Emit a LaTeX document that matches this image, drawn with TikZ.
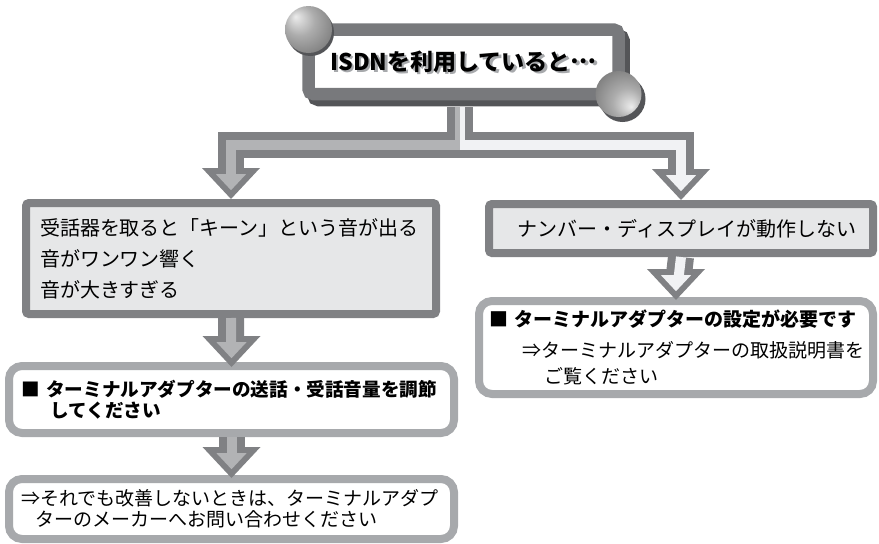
\documentclass[tikz,border=0pt]{standalone}
\usepackage{fontspec}
\setmainfont{Noto Sans CJK JP}
\usetikzlibrary{backgrounds}
\definecolor{linedark}{RGB}{128,129,132}
\definecolor{fillmid}{RGB}{178,179,181}
\definecolor{filllight}{RGB}{241,242,244}
\definecolor{boxgray}{RGB}{230,231,232}
\definecolor{framelight}{RGB}{167,169,172}
\definecolor{titleframe}{RGB}{120,121,124}
\definecolor{titleshade}{RGB}{84,85,88}
\pgfdeclareradialshading{knob}{\pgfpoint{-14bp}{14bp}}{color(0bp)=(white!85!gray); color(16bp)=(gray!65); color(38bp)=(gray!90!black); color(50bp)=(gray!75!black)}
\newcommand{\middots}{\raisebox{0.3em}{…}}
\begin{document}
\begin{tikzpicture}[x=1pt,y=-1pt,
  titlebox/.style={draw=titleframe, fill=white, line width=12.5pt, rounded corners=5pt, outer sep=0pt, inner sep=0pt},
  titletext/.style={font=\fontsize{23pt}{26pt}\selectfont\bfseries},
  probbox/.style={draw=linedark, fill=boxgray, line width=8pt, rounded corners=3pt, inner sep=0pt},
  answerbox/.style={draw=framelight, fill=white, line width=8pt, rounded corners=13pt, inner sep=0pt, align=left},
  shaftout/.style={draw=linedark, line width=26pt, shorten >=29pt},
  shaftin/.style={draw=#1, line width=10pt, shorten >=20pt}]
\useasboundingbox (0,0) rectangle (879,544);
% title
\node[titlebox, minimum width=310pt, minimum height=64.5pt] (title) at (463.5,61.75) {};
\begin{scope}[on background layer]
\draw[titleshade, line width=12.5pt, rounded corners=5pt] ([shift={(5pt,-6pt)}]title.north west) rectangle ([shift={(5pt,-6pt)}]title.south east);
\end{scope}
\node[titletext, text=framelight] (titleecho) at ([shift={(2.5pt,-2.5pt)}]title.center) {ISDNを利用していると\middots};
\node[titletext, text=black] (titlelabel) at (title.center) {ISDNを利用していると\middots};
\fill[titleshade] ([shift={(2pt,-3pt)}]title.north west) circle (23.5pt);
\shade[shading=knob] (title.north west) circle (23.5pt);
\fill[titleshade] ([shift={(4pt,-5pt)}]title.south east) circle (23pt);
\shade[shading=knob, shading angle=180] (title.south east) circle (23pt);
% boxes
\node[probbox, minimum width=410pt, minimum height=111pt, text width=382pt, align=left,
  font=\fontsize{20pt}{31pt}\selectfont] (lbox) at (231,258.5)
  {受話器を取ると「キーン」という音が出る\\音がワンワン響く\\音が大きすぎる};
\node[probbox, minimum width=384pt, minimum height=49pt,
  font=\fontsize{20pt}{24pt}\selectfont] (rbox) at (681,228.5)
  {\hspace*{12pt}ナンバー・ディスプレイが動作しない};
\node[answerbox, minimum width=394pt, minimum height=93pt, text width=374pt,
  font=\fontsize{19pt}{26pt}\selectfont] (rterm) at (676,347.5)
  {{\bfseries ■ ターミナルアダプターの設定が必要です}\\[5pt]\hspace*{33pt}⇒ターミナルアダプターの取扱説明書を\\\hspace*{55pt}ご覧ください};
\node[answerbox, minimum width=445pt, minimum height=67pt, text width=420pt,
  font=\fontsize{18.6pt}{21pt}\selectfont\bfseries] (lterm) at (231.5,399.5)
  {■ ターミナルアダプターの送話・受話音量を調節\\\hspace*{29pt}してください};
\node[answerbox, minimum width=445pt, minimum height=60pt, text width=420pt,
  font=\fontsize{19pt}{21pt}\selectfont] (lmaker) at (231.5,509)
  {⇒それでも改善しないときは、ターミナルアダプ\\\hspace*{14pt}ターのメーカーへお問い合わせください};
% fork below the title
\coordinate (fork) at (460,145);
\coordinate (stemtop) at ([yshift=-13pt]fork |- title.south);
\draw[shaftout] (stemtop) -- (fork) -| (lbox.north);
\draw[shaftout] (stemtop) -- (fork) -| (rbox.north);
\fill[linedark] (lbox.north) -- ++(-29,-31) -- ++(58,0) -- cycle;
\fill[linedark] (rbox.north) -- ++(-29,-31) -- ++(58,0) -- cycle;
\draw[shaftin=fillmid] (stemtop) -- (fork) -| (lbox.north);
\draw[shaftin=filllight] (fork) -| (rbox.north);
\fill[filllight] (stemtop) rectangle ([xshift=5pt]fork);
\fill[fillmid] ([yshift=8.8pt]lbox.north) -- ++(-15.2,-16.2) -- ++(30.4,0) -- cycle;
\fill[filllight] ([yshift=8.8pt]rbox.north) -- ++(-15.2,-16.2) -- ++(30.4,0) -- cycle;
% arrows between boxes
\draw[shaftout] (lbox.south) -- ([yshift=-5pt]lterm.north);
\fill[linedark] ([yshift=-5pt]lterm.north) -- ++(-29,-31) -- ++(58,0) -- cycle;
\draw[shaftin=fillmid] (lbox.south) -- ([yshift=-5pt]lterm.north);
\fill[fillmid] ([yshift=3.8pt]lterm.north) -- ++(-15.2,-16.2) -- ++(30.4,0) -- cycle;
\draw[shaftout] (lterm.south) -- ([yshift=-3pt]lmaker.north);
\fill[linedark] ([yshift=-3pt]lmaker.north) -- ++(-29,-31) -- ++(58,0) -- cycle;
\draw[shaftin=fillmid] (lterm.south) -- ([yshift=-3pt]lmaker.north);
\fill[fillmid] ([yshift=5.8pt]lmaker.north) -- ++(-15.2,-16.2) -- ++(30.4,0) -- cycle;
\draw[shaftout] (rbox.south) -- ([yshift=-3pt]rterm.north);
\fill[linedark] ([yshift=-3pt]rterm.north) -- ++(-29,-31) -- ++(58,0) -- cycle;
\draw[shaftin=filllight] (rbox.south) -- ([yshift=-3pt]rterm.north);
\fill[filllight] ([yshift=5.8pt]rterm.north) -- ++(-15.2,-16.2) -- ++(30.4,0) -- cycle;
\end{tikzpicture}
\end{document}
